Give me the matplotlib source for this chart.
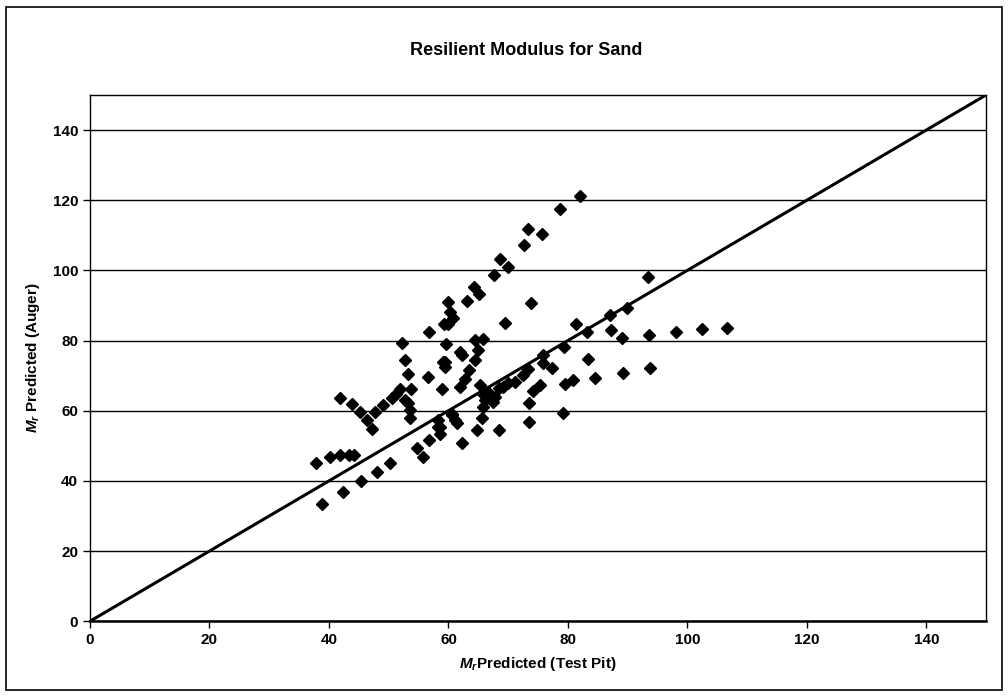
import matplotlib.pyplot as plt
from matplotlib.patches import Rectangle

plt.rcParams['font.family'] = ['Liberation Sans', 'DejaVu Sans']
plt.rcParams['mathtext.fontset'] = 'custom'
plt.rcParams['mathtext.it'] = 'Liberation Sans:italic:bold'
plt.rcParams['mathtext.rm'] = 'Liberation Sans:bold'

# M_r predicted from test pit (x) vs auger (y)
test_pit = [37.8, 38.8, 40.1, 41.9, 42.4, 41.9, 43.3, 44.2, 43.8, 45.2,
            45.3, 46.3, 47.2, 47.7, 48.0, 49.1, 50.2, 50.5, 51.3, 51.9,
            52.3, 52.7, 53.3, 53.8, 52.7, 53.3, 53.6, 53.6, 54.8, 55.8,
            56.5, 56.8, 56.8, 58.9, 58.3, 58.6, 59.4, 58.6, 59.1, 59.4,
            59.6, 60.6, 61.1, 61.4, 62.0, 62.2, 62.0, 62.2, 62.8, 63.5,
            64.5, 64.9, 64.5, 65.7, 64.7, 65.6, 65.3, 65.8, 66.1, 65.8,
            66.7, 68.4, 67.5, 67.8, 68.4, 69.2, 70.0, 71.2, 72.5, 73.3,
            73.4, 73.5, 74.1, 75.3, 75.9, 75.9, 77.3, 79.1, 79.4, 79.5,
            80.8, 83.4, 84.5, 89.3, 93.8, 83.2, 87.2, 89.0, 93.6, 98.1,
            102.4, 106.6, 87.1, 89.9, 93.4, 81.4, 69.5, 73.8, 82.1, 78.6,
            73.3, 75.6, 72.7, 68.6, 69.9, 67.6, 64.2, 65.1, 63.1, 60.0,
            60.3, 60.8, 59.2, 60.0, 60.6, 58.3]
auger = [45.0, 33.3, 46.7, 63.5, 36.7, 47.3, 47.4, 47.4, 61.9, 59.7,
         39.9, 57.3, 54.7, 59.5, 42.6, 61.6, 45.0, 63.5, 64.9, 66.1,
         79.3, 74.5, 70.4, 66.3, 63.0, 62.1, 60.2, 57.8, 49.5, 46.9,
         69.5, 51.6, 82.5, 66.3, 55.4, 53.5, 73.9, 55.4, 73.9, 72.5,
         78.9, 58.7, 57.3, 56.4, 76.8, 75.8, 66.8, 50.9, 69.0, 71.6,
         74.4, 77.3, 80.2, 80.3, 54.5, 57.8, 67.3, 64.9, 63.0, 61.1,
         65.4, 54.4, 62.5, 64.0, 66.4, 66.8, 67.8, 68.2, 70.1, 71.8,
         62.2, 56.8, 65.6, 67.3, 75.8, 73.6, 72.2, 59.4, 78.2, 67.5,
         68.8, 74.6, 69.3, 70.8, 72.2, 82.5, 83.0, 80.6, 81.6, 82.3,
         83.2, 83.5, 87.4, 89.2, 98.0, 84.7, 85.1, 90.6, 121.2, 117.4,
         111.8, 110.3, 107.2, 103.1, 101.0, 98.7, 95.3, 93.2, 91.2, 91.0,
         88.2, 86.3, 84.6, 84.6, 59.0, 57.3]

line_x = [0, 150]
line_y = [0, 150]

fig = plt.figure(figsize=(10.08, 6.98), dpi=100)
fig.patches.append(Rectangle((0.006, 0.012), 0.988, 0.978, transform=fig.transFigure,
                             fill=False, edgecolor='black', linewidth=1.2))
ax = fig.add_axes([0.0893, 0.110, 0.889, 0.754])

ax.plot(line_x, line_y, color='black', linewidth=2.2, zorder=3)
ax.plot(test_pit, auger, 'D', color='black', markersize=6.3, zorder=4, clip_on=False)

ax.set_xlim(0, 150)
ax.set_ylim(0, 150)
ax.set_xticks(range(0, 141, 20))
ax.set_yticks(range(0, 141, 20))
ax.yaxis.grid(True, color='black', linewidth=1.0)
ax.set_axisbelow(True)
for s in ax.spines.values():
    s.set_color('black')
    s.set_linewidth(1.0)
ax.spines['bottom'].set_linewidth(1.8)
ax.tick_params(direction='out', length=5, width=1, labelsize=11)
for lab in ax.get_xticklabels() + ax.get_yticklabels():
    lab.set_fontweight('bold')

ax.set_xlabel(r'$M_r$Predicted (Test Pit)', fontsize=11, fontweight='bold', labelpad=6)
ax.set_ylabel(r'$M_r$ Predicted (Auger)', fontsize=11, fontweight='bold', labelpad=8)
fig.text(0.522, 0.928, 'Resilient Modulus for Sand', ha='center', va='center',
         fontsize=13, fontweight='bold')

fig.savefig('out.png', dpi=100)
